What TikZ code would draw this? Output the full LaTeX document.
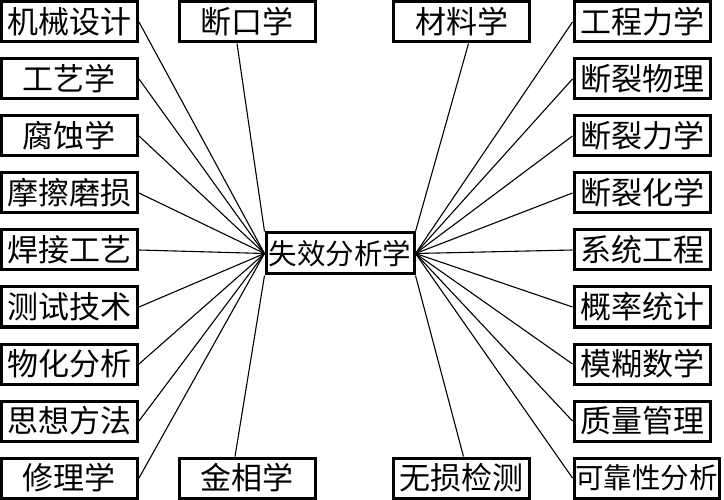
\documentclass[tikz,border=0pt]{standalone}
\usepackage{fontspec}
\setmainfont{Noto Sans CJK SC}
\begin{document}
\begin{tikzpicture}[x=1pt,y=-1pt,
  box/.style={draw, line width=3pt, minimum width=136pt, minimum height=40pt, inner sep=0pt, font=\fontsize{31}{31}\selectfont},
  link/.style={line width=1.1pt}]
\useasboundingbox[fill=white] (0,0) rectangle (724,500);
\node[box, minimum width=148pt, minimum height=41pt, font=\fontsize{28.5}{28.5}\selectfont] (c) at (340,253.5) {失效分析学};
% left column
\node[box] (l1) at (69.5,22) {机械设计};
\node[box] (l2) at (69.5,79) {工艺学};
\node[box] (l3) at (69.5,136) {腐蚀学};
\node[box] (l4) at (69.5,193) {摩擦磨损};
\node[box] (l5) at (69.5,250) {焊接工艺};
\node[box] (l6) at (69.5,307) {测试技术};
\node[box] (l7) at (69.5,364) {物化分析};
\node[box] (l8) at (69.5,421) {思想方法};
\node[box] (l9) at (69.5,478) {修理学};
% right column
\node[box] (r1) at (642,22) {工程力学};
\node[box] (r2) at (642,79) {断裂物理};
\node[box] (r3) at (642,136) {断裂力学};
\node[box] (r4) at (642,193) {断裂化学};
\node[box] (r5) at (642,250) {系统工程};
\node[box] (r6) at (642,307) {概率统计};
\node[box] (r7) at (642,364) {模糊数学};
\node[box] (r8) at (642,421) {质量管理};
\node[box, minimum width=145pt, font=\fontsize{28.5}{28.5}\selectfont] (r9) at (646.5,478) {可靠性分析};
% top and bottom middle
\node[box] (t1) at (247,22) {断口学};
\node[box] (t2) at (461.5,22) {材料学};
\node[box] (b1) at (247,478) {金相学};
\node[box] (b2) at (461.5,478) {无损检测};
% links
\foreach \i in {1,...,9} {
  \draw[link] (l\i.east) -- (c.west);
  \draw[link] (r\i.west) -- (c.east);
}
\draw[link] ([xshift=-10pt]t1.south) -- (c.north west);
\draw[link] ([xshift=7pt]t2.south) -- (c.north east);
\draw[link] ([xshift=-12pt]b1.north) -- (c.south west);
\draw[link] ([xshift=2pt]b2.north) -- (c.south east);
\end{tikzpicture}
\end{document}
